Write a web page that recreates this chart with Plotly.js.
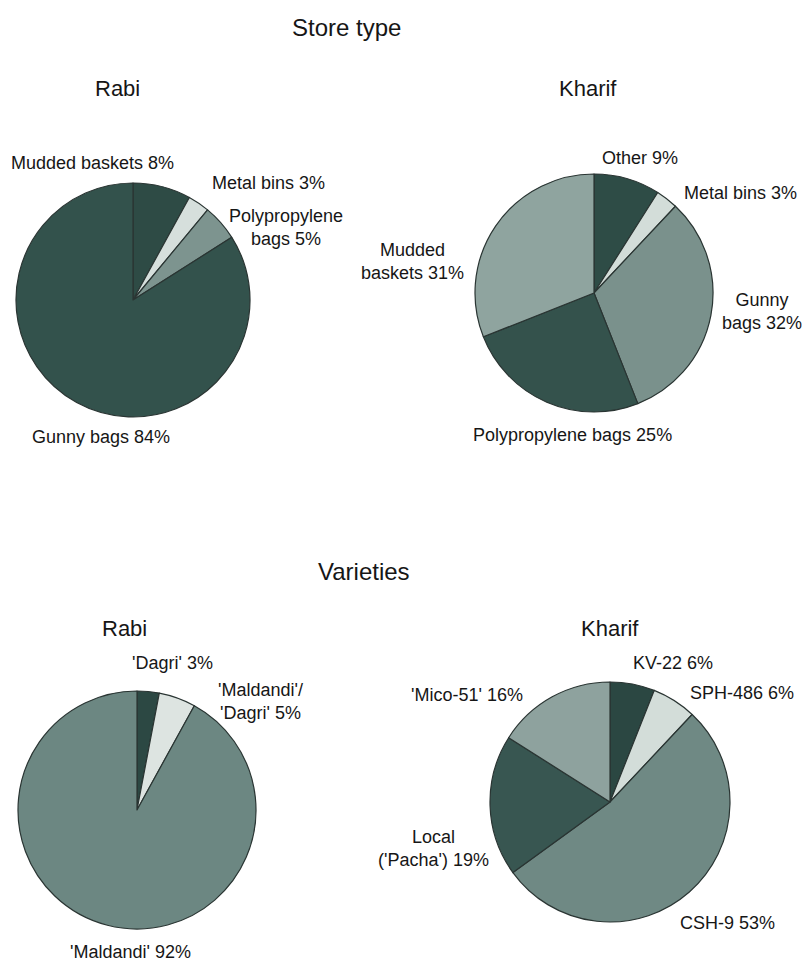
<!DOCTYPE html>
<html><head><meta charset="utf-8">
<script src="https://cdn.plot.ly/plotly-3.0.1.min.js"></script>
<style>html,body{margin:0;padding:0;background:#fff}</style>
</head><body><div id="chart" style="width:807px;height:961px"></div>
<script>
// ---- data ----
const storeRabiLabels = ['Mudded baskets', 'Metal bins', 'Polypropylene<br>bags', 'Gunny bags'];
const storeRabiValues = [8, 3, 5, 84];
const storeKharifLabels = ['Other', 'Metal bins', 'Gunny<br>bags', 'Polypropylene bags', 'Mudded<br>baskets'];
const storeKharifValues = [9, 3, 32, 25, 31];
const varRabiLabels = ["'Dagri'", "'Maldandi'/<br>'Dagri'", "'Maldandi'"];
const varRabiValues = [3, 5, 92];
const varKharifLabels = ['KV-22', 'SPH-486', 'CSH-9', "Local<br>('Pacha')", "'Mico-51'"];
const varKharifValues = [6, 6, 53, 19, 16];

// ---- styles / positions ----
const W = 807, H = 961;
const FONT = 'Liberation Sans, Arial, sans-serif';
const TXT = '#161616';
const pies = [
  {labels: storeRabiLabels, values: storeRabiValues, cx: 133, cy: 300, r: 117,
   colors: ['#2e4b45', '#d6dfdc', '#7d948f', '#33524c'],
   pos: [[92,163],[268,183],[286,228],[101,437]]},
  {labels: storeKharifLabels, values: storeKharifValues, cx: 594, cy: 293, r: 119,
   colors: ['#2e4c46', '#d3ddd9', '#7a918c', '#34524c', '#8fa49f'],
   pos: [[640,158],[740,193],[762,311],[572,435],[412,262]]},
  {labels: varRabiLabels, values: varRabiValues, cx: 137, cy: 810, r: 119,
   colors: ['#2c4843', '#dde4e1', '#6c8782'],
   pos: [[172,663],[260,701],[130,952]]},
  {labels: varKharifLabels, values: varKharifValues, cx: 610, cy: 802, r: 120,
   colors: ['#2b4742', '#d3ddd9', '#6f8984', '#385651', '#8ea29e'],
   pos: [[673,663],[742,693],[727,923],[433,848],[467,695]]}
];
const titles = [
  ['Store type', 346, 27, 24], ['Rabi', 117, 89, 22], ['Kharif', 588, 89, 22],
  ['Varieties', 364, 571, 24], ['Rabi', 125, 628, 22], ['Kharif', 610, 628, 22]
];

const data = [];
const annotations = [];
pies.forEach(p => {
  data.push({
    type: 'pie', labels: p.labels, values: p.values, sort: false,
    direction: 'clockwise', rotation: 0, textinfo: 'none', hoverinfo: 'skip',
    showlegend: false,
    marker: {colors: p.colors, line: {color: '#2a3533', width: 1.2}},
    domain: {x: [(p.cx - p.r) / W, (p.cx + p.r) / W], y: [1 - (p.cy + p.r) / H, 1 - (p.cy - p.r) / H]}
  });
  p.labels.forEach((lab, i) => {
    annotations.push({
      text: lab + ' ' + p.values[i] + '%', x: p.pos[i][0] / W, y: 1 - p.pos[i][1] / H,
      xref: 'paper', yref: 'paper', xanchor: 'center', yanchor: 'middle',
      showarrow: false, align: 'center', font: {family: FONT, size: 18, color: TXT}
    });
  });
});
titles.forEach(t => annotations.push({
  text: t[0], x: t[1] / W, y: 1 - t[2] / H, xref: 'paper', yref: 'paper',
  xanchor: 'center', yanchor: 'middle', showarrow: false,
  font: {family: FONT, size: t[3], color: TXT}
}));

Plotly.newPlot('chart', data, {
  width: W, height: H, margin: {l: 0, r: 0, t: 0, b: 0},
  paper_bgcolor: '#ffffff', plot_bgcolor: '#ffffff',
  annotations: annotations, showlegend: false
}, {displayModeBar: false, staticPlot: true});
</script></body></html>
